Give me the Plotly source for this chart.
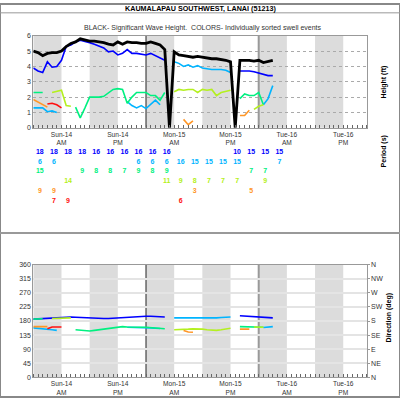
import plotly.graph_objects as go

# hourly samples, hour 0 = Sun-14 00:00
hours = list(range(52))
N = None

black_height = [5.0, 4.9, 4.7, 4.85, 4.9, 4.9, 5.0, 5.3, 5.5, 5.6, 5.8, 5.7, 5.65, 5.65, 5.6, 5.55, 5.45, 5.4, 5.6, 5.45,
                5.6, 5.55, 5.55, 5.5, 5.5, 5.6, 5.5, 5.4, 5.1, 0,
                4.95, 4.75, 4.7, 4.65, 4.6, 4.65, 4.6, 4.55, 4.5, 4.5, 4.45, 4.4, 4.3, 0,
                4.4, 4.4, 4.4, 4.35, 4.4, 4.25, 4.35, 4.4]

# swell heights (ft), one list per colour
blue_h = [3.9, 3.7, 3.6, 4.3, 3.95, 4.0, 4.4, 5.3, 5.4, 5.6, 5.7, 5.65, 5.55, 5.45, 5.3, 5.2, 4.95, 5.0, 4.75, 4.85,
          5.1, 4.85, 4.85, 4.8, 4.75, 4.85, 4.7, 4.5, 4.4] + [N] * 15 + [3.7, 3.7, 3.7, 3.65, 3.55, 3.45, 3.4, 3.4]
lblue_h = [1.3, 1.3, 1.3, 1.05, 1.1, 1.0] + [N] * 14 + [1.7, 1.45, 1.3, 1.45, 1.25, 1.55, 1.8, 1.5] + [N] * 2 + \
          [4.3, 4.2, 4.0, 4.1, 3.95, 4.05, 3.9, 3.85, 3.8, 3.8, 3.8, 3.75, 3.6] + [N] * 6 + [1.5, 1.9, 2.75]
green_h = [2.3, 2.3, 2.3] + [N] * 6 + \
          [1.35, 0.65, 1.3, 2.0, 2.0, 2.0, 2.05, 2.3, 2.5, 2.55, 2.5, 1.6, 2.0, 2.3, 2.3, 2.3, 2.1, 2.1, 1.8, 2.3] + \
          [N] * 15 + [1.9, 2.2, 2.1, 2.1, 2.3, 1.5] + [N] * 2
ygreen_h = [N] * 4 + [2.3, 2.4, 2.45, 1.45, 1.4] + [N] * 21 + \
           [2.35, 2.5, 2.45, 2.5, 2.5, 2.3, 2.5, 2.45, 2.5, 2.1, 2.3, 2.4, 2.45] + [N] * 4 + [1.2, 1.4, 1.5] + [N] * 2
orange_h = [1.85, 1.7, 1.5, 1.35] + [N] * 28 + [0.55, 0.2, 0.45] + [N] * 9 + [0.8, 0.8, 1.15] + [N] * 5
red_h = [N] * 3 + [1.55, 1.6, 1.5, 1.3] + [N] * 45

# swell directions (deg)
blue_d = [186, 187, 188, 189, 190, 192, 193, 194, 193, 192, 191, 190, 189, 188, 188, 188, 188, 189, 190, 191,
          193, 194, 194, 195, 195, 195, 194, 194, 193] + [N] * 15 + [197, 196, 196, 195, 194, 193, 191, 190]
lblue_d = [158, 157, 155, 153, 152, 150] + [N] * 14 + [160, 160, 159, 159, 159, 158, 157, 156] + [N] * 2 + \
          [190, 190, 189, 189, 188, 188, 188, 188, 189, 190, 191, 192, 193] + [N] * 6 + [159, 161, 162]
green_d = [186, 186, 187] + [N] * 6 + \
          [152, 150, 148, 148, 150, 152, 154, 156, 158, 160, 162, 161, 160, 160, 160, 160, 159, 158, 157, 155] + \
          [N] * 15 + [162, 162, 162, 161, 161, 160] + [N] * 2
ygreen_d = [N] * 4 + [188, 188, 189, 189, 190] + [N] * 21 + \
           [152, 152, 153, 154, 155, 155, 154, 152, 150, 150, 152, 155, 157] + [N] * 4 + [161, 161, 160] + [N] * 2
orange_d = [162, 162, 162, 162] + [N] * 28 + [150, 145, 144] + [N] * 9 + [154, 154, 154] + [N] * 5
red_d = [N] * 3 + [155, 161, 161, 161] + [N] * 45

# periods (s), one column every 3 hours
period_hours = list(range(0, 52, 3))
blue_p = [18, 18, 18, 18, 16, 16, 16, 16, 16, 16, N, N, N, N, 10, 15, 15, 15]
lblue_p = [6, 6, N, N, N, N, N, 6, 6, 6, 16, 15, 15, 15, 15, N, N, 7]
green_p = [15, N, N, 9, 8, 8, 7, 9, 8, 9, N, N, N, N, N, 7, 7, N]
ygreen_p = [N, N, 14, N, N, N, N, N, N, 11, 9, 8, 7, 7, 7, N, 9, N]
orange_p = [9, 9, N, N, N, N, N, N, N, N, N, 3, N, N, N, 5, N, N]
red_p = [N, 7, 9, N, N, N, N, N, N, N, 6, N, N, N, N, N, N, N]

label_hours = [6, 18, 30, 42, 54, 66]
label_text = ["Sun-14<br>AM", "Sun-14<br>PM", "Mon-15<br>AM", "Mon-15<br>PM", "Tue-16<br>AM", "Tue-16<br>PM"]
dir_ticks = [0, 45, 90, 135, 180, 225, 270, 315, 360]
dir_names = ["N", "NE", "E", "SE", "S", "SW", "W", "NW", "N"]

swells = [
    ("#0000ff", blue_h, blue_d, blue_p),
    ("#00b4ff", lblue_h, lblue_d, lblue_p),
    ("#00f080", green_h, green_d, green_p),
    ("#b4f020", ygreen_h, ygreen_d, ygreen_p),
    ("#ff9626", orange_h, orange_d, orange_p),
    ("#ff1010", red_h, red_d, red_p),
]

fig = go.Figure()

for color, h, d, p in swells:
    fig.add_trace(go.Scatter(x=hours, y=h, mode="lines", line=dict(color=color, width=1.6),
                             xaxis="x", yaxis="y", hoverinfo="skip"))
    fig.add_trace(go.Scatter(x=hours, y=d, mode="lines", line=dict(color=color, width=1.6),
                             xaxis="x2", yaxis="y2", hoverinfo="skip"))

fig.add_trace(go.Scatter(x=hours, y=black_height, mode="lines", line=dict(color="black", width=2.8),
                         xaxis="x", yaxis="y", hoverinfo="skip"))

# period numbers, one text row per swell
for row, (color, h, d, p) in enumerate(swells):
    xs = [t + 1.4 for t, v in zip(period_hours, p) if v is not None]
    txt = [str(v) for v in p if v is not None]
    fig.add_trace(go.Scatter(x=xs, y=[row] * len(xs), text=txt, mode="text",
                             textfont=dict(color=color, size=7, family="Arial", weight="bold"),
                             xaxis="x3", yaxis="y4", hoverinfo="skip"))

# dummy trace to carry the compass axis
fig.add_trace(go.Scatter(x=[None], y=[None], xaxis="x2", yaxis="y3", showlegend=False))

xd = [33.3 / 400, 366.7 / 400]
tick_font = dict(size=7, color="#333", family="Arial")
common_x = dict(domain=xd, range=[0, 71], tickmode="array", tickvals=label_hours, ticktext=label_text,
                tickfont=dict(size=6.6, color="#333", family="Arial"), ticks="", showgrid=False, zeroline=False,
                showline=True, mirror=True, linecolor="#999", linewidth=1,
                minor=dict(tickmode="linear", tick0=0, dtick=1, ticks="inside", ticklen=3,
                           tickcolor="#666", showgrid=False))

shapes = []
for xr, yr in [("x", "y"), ("x2", "y2")]:
    for start in range(0, 72, 12):
        shapes.append(dict(type="rect", xref=xr, yref=yr + " domain", x0=start, x1=min(start + 6, 71),
                           y0=0, y1=1, fillcolor="#dcdcdc", line=dict(width=0), layer="below"))
    shapes.append(dict(type="line", xref=xr, yref=yr + " domain", x0=24, x1=24, y0=0, y1=1,
                       line=dict(color="#222", width=1), layer="below"))
    shapes.append(dict(type="line", xref=xr, yref=yr + " domain", x0=48, x1=48, y0=0, y1=1,
                       line=dict(color="#999", width=2), layer="below"))

shapes += [
    dict(type="rect", xref="paper", yref="paper", x0=0, x1=1, y0=0, y1=1, line=dict(color="#888", width=2)),
    dict(type="line", xref="paper", yref="paper", x0=0, x1=1, y0=1 - 233 / 400, y1=1 - 233 / 400,
         line=dict(color="#999", width=2)),
    dict(type="line", xref="paper", yref="paper", x0=0, x1=1, y0=1 - 9 / 400, y1=1 - 9 / 400,
         line=dict(color="#999", width=1)),
]

annotations = [
    dict(text="<b>KAUMALAPAU SOUTHWEST, LANAI (51213)</b>", x=0.5, y=1 - 4.5 / 400,
         font=dict(size=7.2, color="black", family="Arial")),
    dict(text="BLACK- Significant Wave Height.  COLORS- Individually sorted swell events", x=203 / 400,
         y=1 - 24 / 400, font=dict(size=7, color="#333", family="Arial")),
    dict(text="<b>Height (ft)</b>", x=384 / 400, y=1 - 80 / 400, textangle=-90,
         font=dict(size=7, color="black", family="Arial")),
    dict(text="<b>Period (s)</b>", x=384 / 400, y=1 - 150 / 400, textangle=-90,
         font=dict(size=7, color="black", family="Arial")),
    dict(text="<b>Direction (deg)</b>", x=389 / 400, y=1 - 320 / 400, textangle=-90,
         font=dict(size=7, color="black", family="Arial")),
]
for a in annotations:
    a.update(xref="paper", yref="paper", xanchor="center", yanchor="middle", showarrow=False)

fig.update_layout(
    width=400, height=400, margin=dict(l=0, r=0, t=0, b=0),
    paper_bgcolor="white", plot_bgcolor="white", showlegend=False,
    xaxis=dict(anchor="y", **common_x),
    yaxis=dict(domain=[1 - 126 / 400, 1 - 32.3 / 400], range=[0, 6], dtick=1, tickfont=tick_font,
               showgrid=True, gridcolor="#aaa", griddash="dot", gridwidth=1, zeroline=False,
               showline=True, mirror=True, linecolor="#999", linewidth=1, anchor="x"),
    xaxis2=dict(anchor="y2", **common_x),
    yaxis2=dict(domain=[0.05, 1 - 265.3 / 400], range=[0, 360], tickvals=dir_ticks, tickfont=tick_font,
                showgrid=True, gridcolor="#e4e4e4", gridwidth=2, zeroline=False,
                showline=True, mirror=True, linecolor="#999", linewidth=1, anchor="x2"),
    yaxis3=dict(overlaying="y2", side="right", anchor="x2", range=[0, 360], tickvals=dir_ticks,
                ticktext=dir_names, tickfont=tick_font, showgrid=False, zeroline=False, ticks="outside",
                ticklen=2, tickcolor="#999"),
    xaxis3=dict(domain=xd, range=[0, 71], visible=False, anchor="y4"),
    yaxis4=dict(domain=[1 - 205.7 / 400, 1 - 145.7 / 400], range=[5.5, -0.5], visible=False, anchor="x3"),
    shapes=shapes,
    annotations=annotations,
)

# page margin off so the 400x400 figure sits at the window corner
fig.write_html("out.html", config={"displayModeBar": False},
               post_script="document.body.style.margin='0';document.body.style.overflow='hidden';")
